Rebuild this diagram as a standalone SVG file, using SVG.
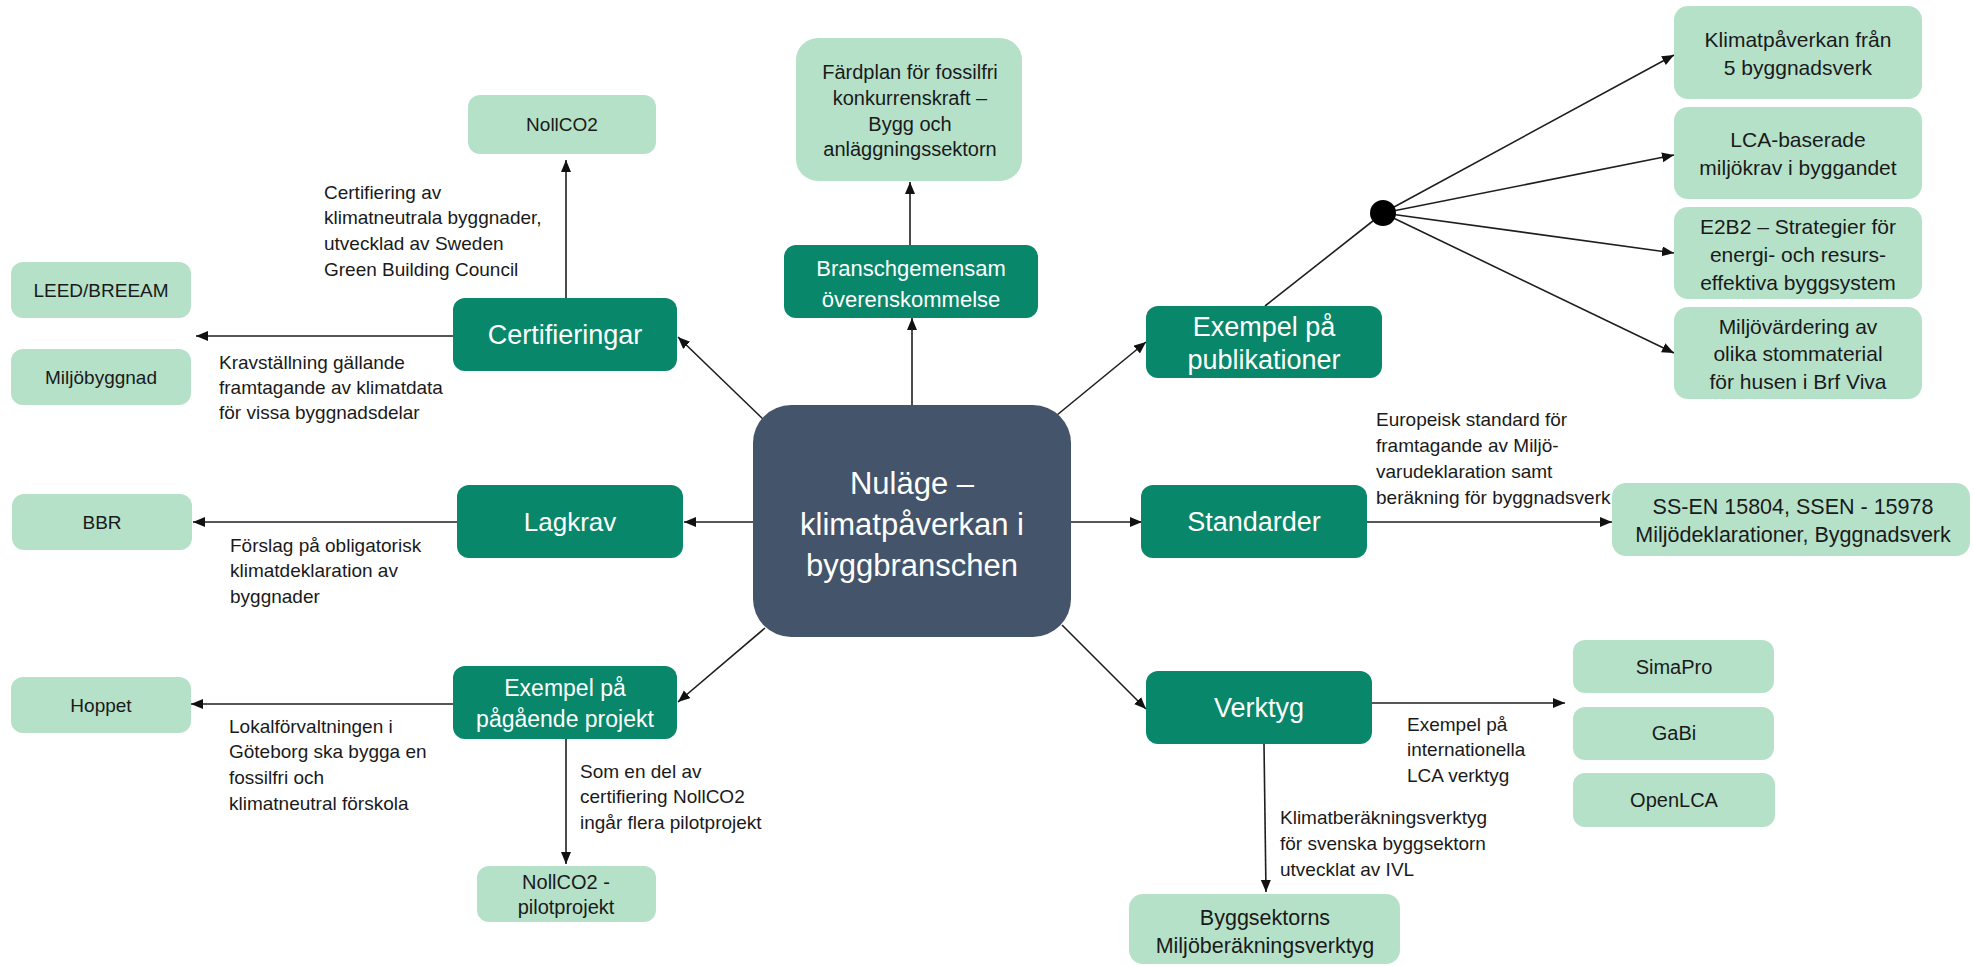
<svg xmlns="http://www.w3.org/2000/svg" width="1973" height="966" viewBox="0 0 1973 966">
<defs>
<marker id="ah" markerUnits="userSpaceOnUse" markerWidth="14" markerHeight="12" refX="12" refY="5" orient="auto">
<path d="M0,0 L12,5 L0,10 z" fill="#111"/>
</marker>
<style>
.lt{fill:#B5E1C9}
.dk{fill:#08876A}
.ct{fill:#44546A}
text{font-family:"Liberation Sans",Arial,sans-serif}
.bt{fill:#1a1a1a;text-anchor:middle}
.wt{fill:#ffffff;text-anchor:middle}
.an{fill:#1a1a1a;font-size:19px}
.cn line{stroke:#1e1e1e;stroke-width:1.6;fill:none}
.cn .a{marker-end:url(#ah)}
</style>
</defs>
<rect width="1973" height="966" fill="#ffffff"/>

<g class="cn" id="connectors">
<line class="a" x1="764" y1="420" x2="678" y2="337"/>
<line class="a" x1="912" y1="405" x2="912" y2="318"/>
<line class="a" x1="1057" y1="415" x2="1146" y2="342"/>
<line class="a" x1="753" y1="522" x2="684" y2="522"/>
<line class="a" x1="1071" y1="522" x2="1142" y2="522"/>
<line class="a" x1="765" y1="628" x2="678" y2="702"/>
<line class="a" x1="1062" y1="625" x2="1146" y2="709"/>
<line class="a" x1="910" y1="245" x2="910" y2="182"/>
<line class="a" x1="566" y1="298" x2="566" y2="160"/>
<line class="a" x1="453" y1="336" x2="196" y2="336"/>
<line class="a" x1="457" y1="522" x2="193" y2="522"/>
<line class="a" x1="453" y1="704" x2="191" y2="704"/>
<line class="a" x1="566" y1="739" x2="566" y2="864"/>
<line x1="1265" y1="306" x2="1383" y2="213"/>
<line class="a" x1="1383" y1="213" x2="1674" y2="55"/>
<line class="a" x1="1383" y1="213" x2="1674" y2="155"/>
<line class="a" x1="1383" y1="213" x2="1674" y2="253"/>
<line class="a" x1="1383" y1="213" x2="1674" y2="353"/>
<line class="a" x1="1367" y1="522" x2="1612" y2="522"/>
<line class="a" x1="1372" y1="703" x2="1565" y2="703"/>
<line class="a" x1="1264" y1="744" x2="1266" y2="892"/>
<circle cx="1383" cy="213" r="13" fill="#000"/>
</g>

<g id="central">
<rect class="ct" x="753" y="405" width="318" height="232" rx="38"/>
<text class="wt" font-size="31" x="912" y="494">Nuläge –</text>
<text class="wt" font-size="31" x="912" y="535">klimatpåverkan i</text>
<text class="wt" font-size="31" x="912" y="576">byggbranschen</text>
</g>

<g id="certifieringar">
<rect class="dk" x="453" y="298" width="224" height="73" rx="12"/>
<text class="wt" font-size="27" x="565" y="344">Certifieringar</text>
</g>
<g id="nollco2">
<rect class="lt" x="468" y="95" width="188" height="59" rx="12"/>
<text class="bt" font-size="19" x="562" y="131">NollCO2</text>
</g>
<g id="leed">
<rect class="lt" x="11" y="262" width="180" height="56" rx="12"/>
<text class="bt" font-size="19" x="101" y="297">LEED/BREEAM</text>
</g>
<g id="miljobyggnad">
<rect class="lt" x="11" y="349" width="180" height="56" rx="12"/>
<text class="bt" font-size="19" x="101" y="384">Miljöbyggnad</text>
</g>
<g id="lagkrav">
<rect class="dk" x="457" y="485" width="226" height="73" rx="12"/>
<text class="wt" font-size="26" x="570" y="531">Lagkrav</text>
</g>
<g id="bbr">
<rect class="lt" x="12" y="494" width="180" height="56" rx="12"/>
<text class="bt" font-size="19" x="102" y="529">BBR</text>
</g>
<g id="pagaende">
<rect class="dk" x="453" y="666" width="224" height="73" rx="12"/>
<text class="wt" font-size="23" x="565" y="696">Exempel på</text>
<text class="wt" font-size="23" x="565" y="727">pågående projekt</text>
</g>
<g id="hoppet">
<rect class="lt" x="11" y="677" width="180" height="56" rx="12"/>
<text class="bt" font-size="19" x="101" y="712">Hoppet</text>
</g>
<g id="pilot">
<rect class="lt" x="477" y="866" width="179" height="56" rx="12"/>
<text class="bt" font-size="20" x="566" y="889">NollCO2 -</text>
<text class="bt" font-size="20" x="566" y="914">pilotprojekt</text>
</g>
<g id="bransch">
<rect class="dk" x="784" y="245" width="254" height="73" rx="12"/>
<text class="wt" font-size="22" x="911" y="276">Branschgemensam</text>
<text class="wt" font-size="22" x="911" y="307">överenskommelse</text>
</g>
<g id="fardplan">
<rect class="lt" x="796" y="38" width="226" height="143" rx="22"/>
<text class="bt" font-size="20" x="910" y="79">Färdplan för fossilfri</text>
<text class="bt" font-size="20" x="910" y="105">konkurrenskraft –</text>
<text class="bt" font-size="20" x="910" y="131">Bygg och</text>
<text class="bt" font-size="20" x="910" y="156">anläggningssektorn</text>
</g>
<g id="publikationer">
<rect class="dk" x="1146" y="306" width="236" height="72" rx="12"/>
<text class="wt" font-size="27" x="1264" y="336">Exempel på</text>
<text class="wt" font-size="27" x="1264" y="369">publikationer</text>
</g>
<g id="pub1">
<rect class="lt" x="1674" y="6" width="248" height="93" rx="14"/>
<text class="bt" font-size="21" x="1798" y="47">Klimatpåverkan från</text>
<text class="bt" font-size="21" x="1798" y="75">5 byggnadsverk</text>
</g>
<g id="pub2">
<rect class="lt" x="1674" y="107" width="248" height="92" rx="14"/>
<text class="bt" font-size="21" x="1798" y="147">LCA-baserade</text>
<text class="bt" font-size="21" x="1798" y="175">miljökrav i byggandet</text>
</g>
<g id="pub3">
<rect class="lt" x="1674" y="207" width="248" height="92" rx="14"/>
<text class="bt" font-size="21" x="1798" y="234">E2B2 – Strategier för</text>
<text class="bt" font-size="21" x="1798" y="262">energi- och resurs-</text>
<text class="bt" font-size="21" x="1798" y="290">effektiva byggsystem</text>
</g>
<g id="pub4">
<rect class="lt" x="1674" y="307" width="248" height="92" rx="14"/>
<text class="bt" font-size="21" x="1798" y="334">Miljövärdering av</text>
<text class="bt" font-size="21" x="1798" y="361">olika stommaterial</text>
<text class="bt" font-size="21" x="1798" y="389">för husen i Brf Viva</text>
</g>
<g id="standarder">
<rect class="dk" x="1141" y="485" width="226" height="73" rx="12"/>
<text class="wt" font-size="27" x="1254" y="531">Standarder</text>
</g>
<g id="ssen">
<rect class="lt" x="1612" y="483" width="358" height="73" rx="14"/>
<text class="bt" font-size="21.5" x="1793" y="514">SS-EN 15804, SSEN - 15978</text>
<text class="bt" font-size="21.5" x="1793" y="542">Miljödeklarationer, Byggnadsverk</text>
</g>
<g id="verktyg">
<rect class="dk" x="1146" y="671" width="226" height="73" rx="12"/>
<text class="wt" font-size="27" x="1259" y="717">Verktyg</text>
</g>
<g id="simapro">
<rect class="lt" x="1573" y="640" width="201" height="53" rx="12"/>
<text class="bt" font-size="20" x="1674" y="674">SimaPro</text>
</g>
<g id="gabi">
<rect class="lt" x="1573" y="707" width="201" height="53" rx="12"/>
<text class="bt" font-size="20" x="1674" y="740">GaBi</text>
</g>
<g id="openlca">
<rect class="lt" x="1573" y="773" width="202" height="54" rx="12"/>
<text class="bt" font-size="20" x="1674" y="807">OpenLCA</text>
</g>
<g id="byggsektorns">
<rect class="lt" x="1129" y="894" width="271" height="70" rx="14"/>
<text class="bt" font-size="21.5" x="1265" y="925">Byggsektorns</text>
<text class="bt" font-size="21.5" x="1265" y="953">Miljöberäkningsverktyg</text>
</g>

<g id="labels">
<text class="an" x="324" y="199">Certifiering av</text>
<text class="an" x="324" y="224">klimatneutrala byggnader,</text>
<text class="an" x="324" y="250">utvecklad av Sweden</text>
<text class="an" x="324" y="276">Green Building Council</text>
<text class="an" x="219" y="369">Kravställning gällande</text>
<text class="an" x="219" y="394">framtagande av klimatdata</text>
<text class="an" x="219" y="419">för vissa byggnadsdelar</text>
<text class="an" x="230" y="552">Förslag på obligatorisk</text>
<text class="an" x="230" y="577">klimatdeklaration av</text>
<text class="an" x="230" y="603">byggnader</text>
<text class="an" x="229" y="733">Lokalförvaltningen i</text>
<text class="an" x="229" y="758">Göteborg ska bygga en</text>
<text class="an" x="229" y="784">fossilfri och</text>
<text class="an" x="229" y="810">klimatneutral förskola</text>
<text class="an" x="580" y="778">Som en del av</text>
<text class="an" x="580" y="803">certifiering NollCO2</text>
<text class="an" x="580" y="829">ingår flera pilotprojekt</text>
<text class="an" x="1376" y="426">Europeisk standard för</text>
<text class="an" x="1376" y="452">framtagande av Miljö-</text>
<text class="an" x="1376" y="478">varudeklaration samt</text>
<text class="an" x="1376" y="504">beräkning för byggnadsverk</text>
<text class="an" x="1407" y="731">Exempel på</text>
<text class="an" x="1407" y="756">internationella</text>
<text class="an" x="1407" y="782">LCA verktyg</text>
<text class="an" x="1280" y="824">Klimatberäkningsverktyg</text>
<text class="an" x="1280" y="850">för svenska byggsektorn</text>
<text class="an" x="1280" y="876">utvecklat av IVL</text>
</g>
</svg>
